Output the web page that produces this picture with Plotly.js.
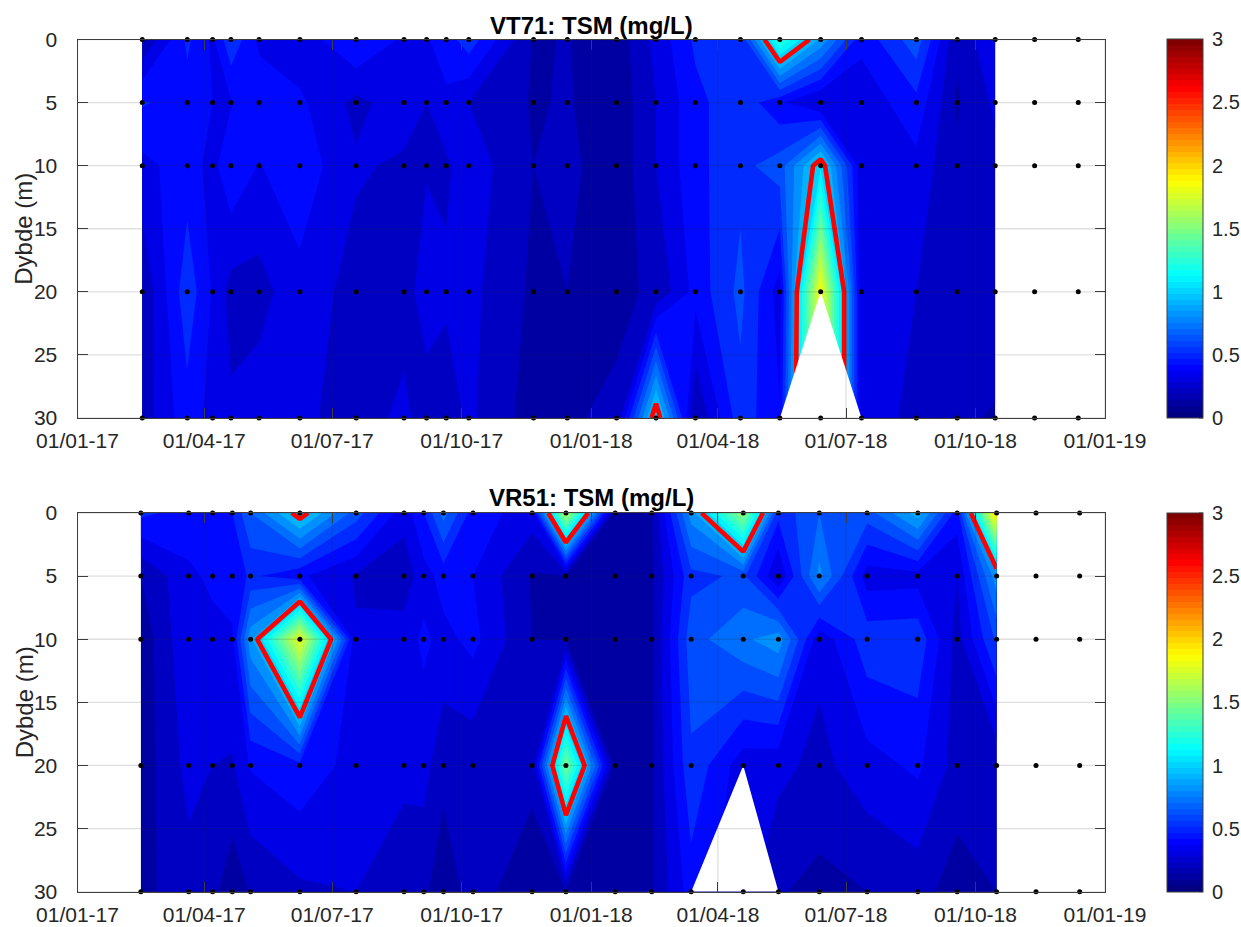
<!DOCTYPE html>
<html>
<head>
<meta charset="utf-8">
<script src="https://cdn.plot.ly/plotly-3.0.1.min.js"></script>
<style>html,body{margin:0;padding:0;background:#fff}</style>
</head>
<body>
<div id="chart" style="width:1241px;height:927px"></div>
<script>
const depths = [0, 5, 10, 20, 30];
const yTicks = [0, 5, 10, 15, 20, 25, 30];
const xTickVals = ['2017-01-01','2017-04-01','2017-07-01','2017-10-01','2018-01-01','2018-04-01','2018-07-01','2018-10-01','2019-01-01'];
const xTickText = ['01/01-17','01/04-17','01/07-17','01/10-17','01/01-18','01/04-18','01/07-18','01/10-18','01/01-19'];
const cbTicks = [0, 0.5, 1, 1.5, 2, 2.5, 3];
const cbText = ['0','0.5','1','1.5','2','2.5','3'];

const vt71Dates = ['2017-02-16','2017-03-20','2017-04-07','2017-04-20','2017-05-10','2017-06-08','2017-07-18','2017-08-21','2017-09-06','2017-09-20','2017-10-06','2017-11-21','2017-12-15','2018-01-19','2018-02-16','2018-03-16','2018-04-17','2018-05-15','2018-06-13','2018-07-12','2018-08-20','2018-09-18','2018-10-15'];
const vt71ExtraDates = ['2018-11-12','2018-12-13'];
const vt71_0m  = [.2,.52,.38,.58,.38,.33,.51,.38,.39,.45,.56,.19,.205,.14,.33,.52,.5,1.32,.88,.43,.66,.21,.41];
const vt71_5m  = [.51,.46,.40,.39,.46,.42,.27,.36,.30,.38,.30,.19,.21,.13,.30,.47,.57,.42,.28,.33,.47,.19,.32];
const vt71_10m = [.37,.45,.367,.486,.395,.46,.315,.28,.29,.28,.36,.2,.23,.13,.30,.47,.57,.65,1.08,.33,.37,.21,.27];
const vt71_20m = [.21,.566,.39,.26,.26,.37,.255,.25,.36,.32,.33,.18,.2,.18,.215,.435,.63,.35,1.92,.32,.3,.22,.27];
const vt71_30m = [.25,.46,.365,.32,.36,.33,.24,.33,.24,.24,.32,.15,.19,.217,1.1,.2,.56,.41,null,.32,.29,.22,.19];

const vr51Dates = ['2017-02-15','2017-03-21','2017-04-07','2017-04-21','2017-05-04','2017-06-08','2017-07-18','2017-08-21','2017-09-04','2017-09-18','2017-10-09','2017-11-20','2017-12-14','2018-01-18','2018-02-13','2018-03-13','2018-04-19','2018-05-14','2018-06-12','2018-07-16','2018-08-21','2018-09-18','2018-10-16'];
const vr51ExtraDates = ['2018-11-13','2018-12-14'];
const vr51_0m  = [.525,.46,.45,.5,.7,1.06,.65,.337,.5,.74,.45,.35,1.7,.15,.19,.85,1.6,.53,.7,.65,.95,.45,2.05];
const vr51_5m  = [.2,.38,.42,.43,.52,.42,.29,.24,.36,.44,.40,.19,.2,.14,.185,.57,.62,.3,.83,.35,.36,.30,.86];
const vr51_10m = [.13,.39,.37,.39,.87,1.86,.31,.35,.42,.37,.43,.2,.19,.14,.18,.66,.78,.86,.33,.56,.57,.26,.62];
const vr51_20m = [.14,.333,.30,.29,.41,.47,.36,.33,.34,.23,.23,.23,1.52,.15,.185,.58,.34,.33,.27,.36,.42,.26,.22];
const vr51_30m = [.17,.26,.23,.13,.21,.28,.30,.23,.22,.14,.24,.14,.2,.13,.19,.45,null,.21,.17,.2,.24,.15,.2];

const W = 1241, H = 927;
const plotL = 77.5, plotR = 1105;
const cbL = 1167, cbThick = 36;
const panels = [
  {name:'VT71', top:39.5, bottom:418, titleY:25, dates:vt71Dates, extra:vt71ExtraDates, rows:[vt71_0m,vt71_5m,vt71_10m,vt71_20m,vt71_30m], xa:'x', ya:'y'},
  {name:'VR51', top:513, bottom:891.7, titleY:498, dates:vr51Dates, extra:vr51ExtraDates, rows:[vr51_0m,vr51_5m,vr51_10m,vr51_20m,vr51_30m], xa:'x2', ya:'y2'}
];

function clamp(v){return Math.max(0,Math.min(1,v));}
function jet(t){
  const r=clamp(Math.min(4*t-1.5,-4*t+4.5)), g=clamp(Math.min(4*t-.5,-4*t+3.5)), b=clamp(Math.min(4*t+.5,-4*t+2.5));
  return 'rgb('+Math.round(r*255)+','+Math.round(g*255)+','+Math.round(b*255)+')';
}
// band [k*0.1,(k+1)*0.1] is painted with the colour of its lower level
const NC = 31;
const fillScale = [[0,jet(0)]];
for(let k=0;k<=30;k++){ fillScale.push([(k+1)/NC, jet(k/30)]); }
// stepped 64-colour jet for the colour bar
const barScale = [];
for(let i=0;i<64;i++){ const c=jet(i/63); barScale.push([i/64,c]); barScale.push([(i+1)/64,c]); }

const INK = '#404040';
const font = 'Liberation Sans, Arial, sans-serif';
const traces = [], shapes = [], annotations = [];
const layout = {
  width:W, height:H, margin:{l:0,r:0,t:0,b:0}, paper_bgcolor:'#fff', plot_bgcolor:'#fff',
  showlegend:false, font:{family:font,color:'#262626',size:20}, hovermode:false
};

panels.forEach((p,idx)=>{
  const zFilled = p.rows.map((row,r)=>row.map((v,c)=> v===null ? p.rows[r-1][c] : v));
  traces.push({type:'contour',x:p.dates,y:depths,z:zFilled,xaxis:p.xa,yaxis:p.ya,showscale:false,autocontour:false,
    colorscale:fillScale,contours:{start:0,end:3,size:0.1,coloring:'fill',showlines:false},line:{width:0,smoothing:0},hoverinfo:'skip'});
  traces.push({type:'contour',x:p.dates,y:depths,z:zFilled,xaxis:p.xa,yaxis:p.ya,showscale:false,autocontour:false,
    contours:{start:1,end:1,size:1,coloring:'none'},line:{color:'#ff0000',width:4.6,smoothing:0},hoverinfo:'skip'});
  // gaps: the triangle spanned by a missing sample and its neighbours stays empty
  p.rows.forEach((row,r)=>row.forEach((v,c)=>{
    if(v===null){
      traces.push({type:'scatter',mode:'lines',x:[p.dates[c-1],p.dates[c],p.dates[c+1]],y:[depths[r],depths[r-1],depths[r]],
        fill:'toself',fillcolor:'#fff',line:{width:0},xaxis:p.xa,yaxis:p.ya,hoverinfo:'skip'});
    }
  }));
  // sample points
  const all = p.dates.concat(p.extra), sx=[], sy=[];
  depths.forEach(d=>all.forEach(t=>{sx.push(t);sy.push(d);}));
  traces.push({type:'scatter',mode:'markers',x:sx,y:sy,xaxis:p.xa,yaxis:p.ya,cliponaxis:false,
    marker:{color:'#000',size:5},hoverinfo:'skip'});
  // colour bar carrier
  const yMid = 1-((p.top+p.bottom)/2)/H;
  traces.push({type:'scatter',mode:'markers',x:[p.dates[0],p.dates[0]],y:[0,0],xaxis:p.xa,yaxis:p.ya,hoverinfo:'skip',
    marker:{size:0.01,opacity:0,color:[0,3],cmin:0,cmax:3,colorscale:barScale,showscale:true,
      colorbar:{x:cbL/W,xanchor:'left',xpad:0,ypad:0,thickness:cbThick,thicknessmode:'pixels',len:(p.bottom-p.top)/H,lenmode:'fraction',
        y:yMid,yanchor:'middle',tickmode:'array',tickvals:cbTicks,ticktext:cbText,ticks:'outside',ticklen:5,tickwidth:1,tickcolor:'rgba(0,0,0,0)',
        outlinecolor:INK,outlinewidth:1,borderwidth:0,tickfont:{size:20,family:font,color:'#262626'}}}});
  // inward colour-bar tick marks
  cbTicks.forEach(v=>{
    const py = 1-(p.bottom-(v/3)*(p.bottom-p.top))/H;
    shapes.push({type:'line',layer:'above',xref:'paper',yref:'paper',x0:(cbL+cbThick-4)/W,x1:(cbL+cbThick)/W,y0:py,y1:py,line:{color:INK,width:1}});
  });

  const xKey = idx?'xaxis2':'xaxis', yKey = idx?'yaxis2':'yaxis';
  layout[xKey] = {domain:[plotL/W,plotR/W],anchor:p.ya,type:'date',range:['2017-01-01','2019-01-01'],tickmode:'array',tickvals:xTickVals,ticktext:xTickText,
    ticks:'inside',ticklen:10,tickwidth:1,tickcolor:INK,showline:true,linecolor:INK,linewidth:1,mirror:'ticks',showgrid:false,zeroline:false,layer:'above traces',
    tickfont:{size:21,family:font,color:'#262626'},ticklabelstandoff:4,tickangle:0};
  layout[yKey] = {domain:[1-p.bottom/H,1-p.top/H],anchor:p.xa,range:[30,0],tickmode:'array',tickvals:yTicks,
    ticks:'inside',ticklen:10,tickwidth:1,tickcolor:INK,showline:true,linecolor:INK,linewidth:1,mirror:'ticks',showgrid:false,zeroline:false,layer:'above traces',
    tickfont:{size:21,family:font,color:'#262626'},ticklabelstandoff:15};

  xTickVals.forEach(t=>shapes.push({type:'line',layer:'above',xref:p.xa,yref:p.ya+' domain',x0:t,x1:t,y0:0,y1:1,line:{color:'rgba(38,38,38,0.15)',width:1.3}}));
  yTicks.forEach(d=>shapes.push({type:'line',layer:'above',xref:p.xa+' domain',yref:p.ya,x0:0,x1:1,y0:d,y1:d,line:{color:'rgba(38,38,38,0.15)',width:1.3}}));
  annotations.push({xref:p.xa+' domain',x:0.5,xanchor:'center',yref:'paper',y:1-p.titleY/H,yanchor:'middle',showarrow:false,
    text:'<b>'+p.name+': TSM (mg/L)</b>',font:{size:24,family:font,color:'#000'}});
  annotations.push({xref:'paper',x:24/W,xanchor:'center',yref:'paper',y:yMid,yanchor:'middle',showarrow:false,textangle:-90,
    text:'Dybde (m)',font:{size:24,family:font,color:'#262626'}});
});
layout.shapes = shapes;
layout.annotations = annotations;
Plotly.newPlot('chart',traces,layout,{displayModeBar:false,staticPlot:true});
</script>
</body>
</html>
